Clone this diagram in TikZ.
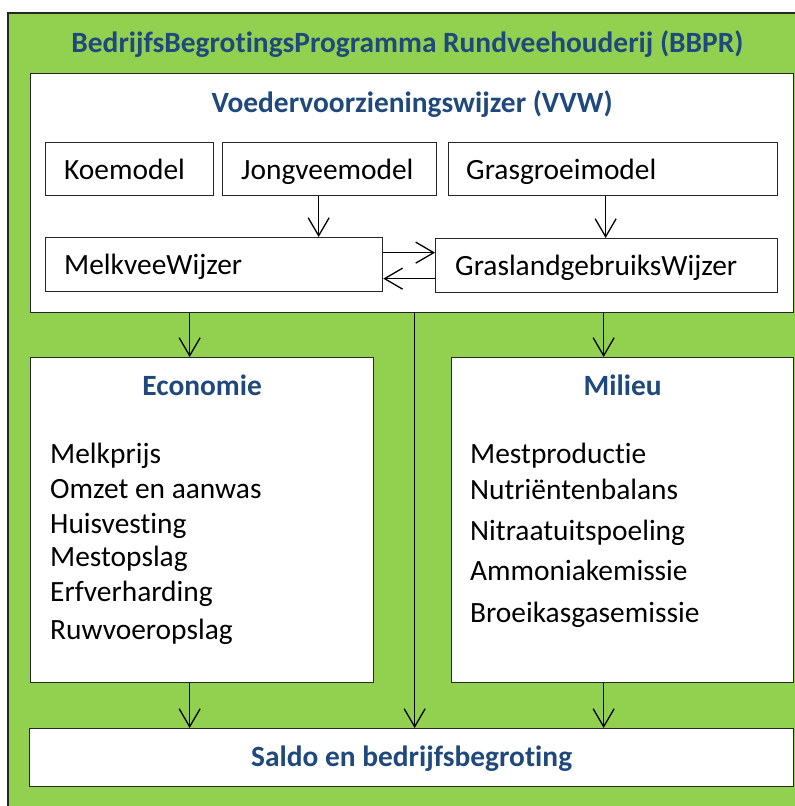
\documentclass[tikz,border=0pt]{standalone}
\usepackage{fontspec}
\setmainfont{Carlito}[Ligatures={NoCommon,NoContextual,NoRequired}]
\usetikzlibrary{arrows.meta}
\definecolor{bbprgreen}{HTML}{92D050}
\definecolor{bbprblue}{HTML}{1F497D}

\begin{document}
\begin{tikzpicture}[x=1pt,y=-1pt,
  every node/.style={font=\fontsize{29.4}{35}\selectfont},
  box/.style={draw=black!85,fill=white,line width=1.3pt,anchor=north west,inner sep=0pt},
  ttl/.style={font=\fontsize{29.4}{35}\selectfont\bfseries,text=bbprblue,inner sep=0pt,anchor=base},
  item/.style={inner sep=0pt,anchor=base west},
  arr/.style={-{Straight Barb[length=18pt,width=21pt]},line width=1.3pt}]
\useasboundingbox (0,0) rectangle (795,806);
\fill[bbprgreen] (8,13) rectangle (795,806);
\draw[black!85,line width=1.3pt] (8,806) -- (8,13) -- (795,13);
\node[ttl] (bbpr) at (407.5,52) {BedrijfsBegrotingsProgramma Rundveehouderij (BBPR)};

% voedervoorzieningswijzer
\node[box,minimum width=763pt,minimum height=239pt] (vvw) at (30,73) {};
\node[ttl] (vvwtitle) at ([yshift=-39pt]vvw.north) {Voedervoorzieningswijzer (VVW)};
\node[box,minimum width=168pt,minimum height=53pt] (koe) at (45,142) {};
\node[box,minimum width=214pt,minimum height=53pt] (jong) at (222,142) {};
\node[box,minimum width=329pt,minimum height=53pt] (gras) at (448,142) {};
\node[box,minimum width=337pt,minimum height=54pt] (melk) at (45,237) {};
\node[box,minimum width=342pt,minimum height=54pt] (grasl) at (435,238) {};
\node[item] (koetxt) at ([xshift=19pt,yshift=-10pt]koe.west) {Koemodel};
\node[item] (jongtxt) at ([xshift=19pt,yshift=-10pt]jong.west) {Jongveemodel};
\node[item] (grastxt) at ([xshift=18pt,yshift=-10pt]gras.west) {Grasgroeimodel};
\node[item] (melktxt) at ([xshift=19pt,yshift=-10pt]melk.west) {MelkveeWijzer};
\node[item] (grasltxt) at ([xshift=20pt,yshift=-10pt]grasl.west) {GraslandgebruiksWijzer};
\draw[arr] ([xshift=-11pt]jong.south) -- ([xshift=-11pt]jong.south |- melk.north);
\draw[arr] ([xshift=-7.5pt]gras.south) -- ([xshift=-7.5pt]gras.south |- grasl.north);
\draw[arr] ([yshift=12pt]melk.east) -- ([yshift=12pt]melk.east -| grasl.west);
\draw[arr] ([yshift=-13pt]grasl.west) -- ([yshift=-13pt]grasl.west -| melk.east);

% economie en milieu
\node[box,minimum width=343pt,minimum height=325pt] (eco) at (30,357) {};
\node[box,minimum width=342pt,minimum height=325pt] (mil) at (451,357) {};
\node[ttl] (ecotitle) at ([yshift=-38pt]eco.north) {Economie};
\node[ttl] (miltitle) at ([yshift=-38pt]mil.north) {Milieu};
\foreach \t/\y [count=\i] in {Melkprijs/463,Omzet en aanwas/498,Huisvesting/533,Mestopslag/566,Erfverharding/601,Ruwvoeropslag/639}
  \node[item] (eco\i) at (50,\y) {\t};
\foreach \t/\y [count=\i] in {Mestproductie/463,Nutriëntenbalans/499,Nitraatuitspoeling/540,Ammoniakemissie/580,Broeikasgasemissie/622}
  \node[item] (mil\i) at (470,\y) {\t};

% saldo
\node[box,minimum width=764pt,minimum height=58pt] (saldo) at (29,728) {};
\node[ttl] (saldotxt) at ([yshift=-9pt]saldo.center) {Saldo en bedrijfsbegroting};

\coordinate (ecoin) at ([xshift=-12.5pt]eco.north);
\coordinate (milin) at ([xshift=-19pt]mil.north);
\coordinate (ecoout) at ([xshift=-12.5pt]eco.south);
\coordinate (milout) at ([xshift=-19pt]mil.south);
\coordinate (mid) at ([xshift=3pt]saldo.north);
\draw[arr] (ecoin |- vvw.south) -- (ecoin);
\draw[arr] (milin |- vvw.south) -- (milin);
\draw[arr] (mid |- vvw.south) -- (mid);
\draw[arr] (ecoout) -- (ecoout |- saldo.north);
\draw[arr] (milout) -- (milout |- saldo.north);
\end{tikzpicture}
\end{document}
